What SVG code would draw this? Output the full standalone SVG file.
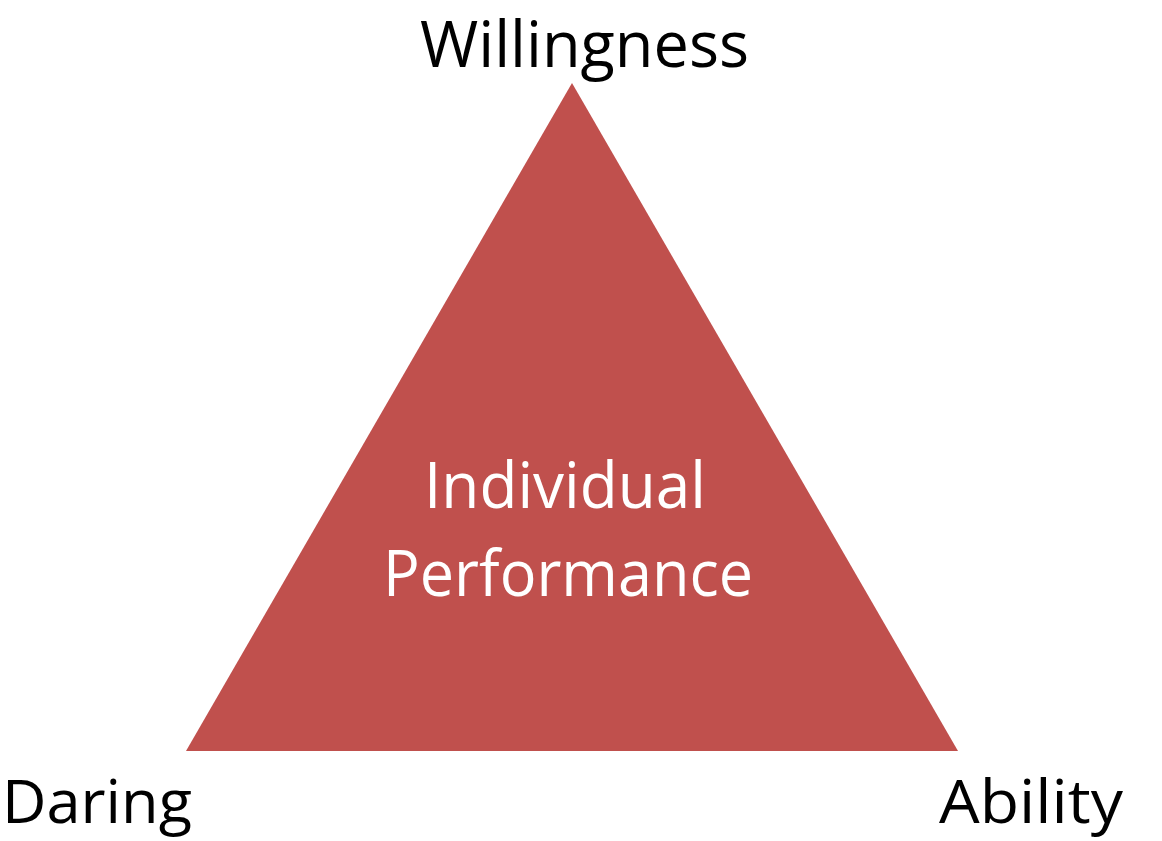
<svg xmlns="http://www.w3.org/2000/svg" width="1162" height="841" viewBox="0 0 1162 841">
<style>
.lbl{font-family:"Open Sans","Liberation Sans",sans-serif;font-size:64px;fill:#000}
.bot{font-size:60px}
.in{font-family:"Open Sans","Liberation Sans",sans-serif;font-size:64px;fill:#fff}
</style>
<rect width="1162" height="841" fill="#fff"/>
<g id="triangle">
<polygon points="572,83 186,751 958,751" fill="#C0504D"/>
<text class="in" x="424" y="508" textLength="282" lengthAdjust="spacingAndGlyphs">Individual</text>
<text class="in" x="383" y="596" textLength="370" lengthAdjust="spacingAndGlyphs">Performance</text>
</g>
<g id="willingness"><text class="lbl" x="420" y="67" textLength="329" lengthAdjust="spacingAndGlyphs">Willingness</text></g>
<g id="daring"><text class="lbl bot" x="2" y="823" textLength="190" lengthAdjust="spacingAndGlyphs">Daring</text></g>
<g id="ability"><text class="lbl bot" x="939" y="823" textLength="184" lengthAdjust="spacingAndGlyphs">Ability</text></g>
<g id="connectors"></g>
</svg>
